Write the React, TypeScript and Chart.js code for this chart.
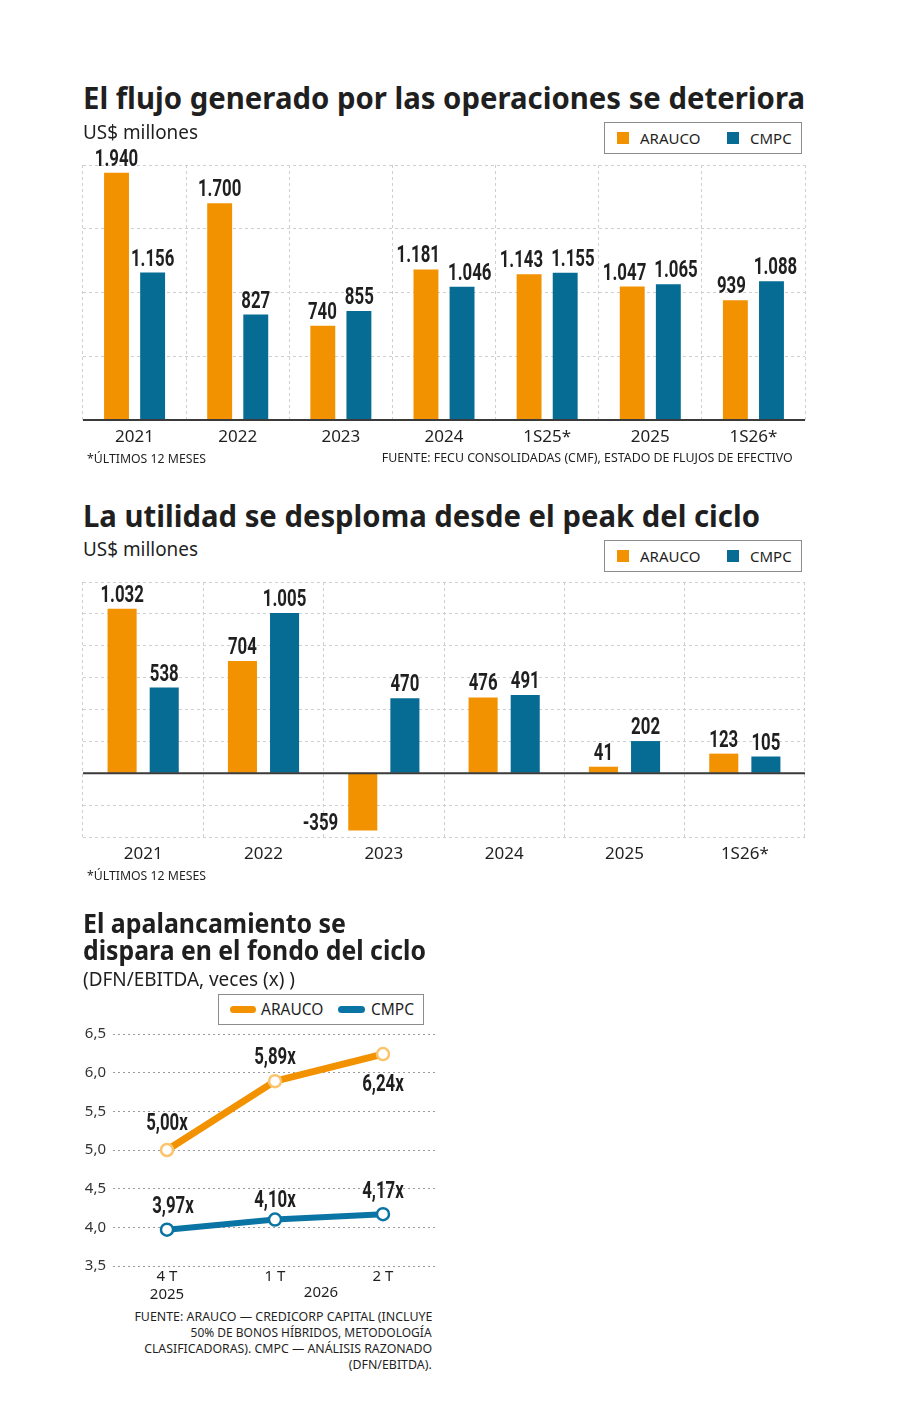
import React, { useEffect, useLayoutEffect, useRef } from 'react';
import { Chart, registerables } from 'chart.js';

Chart.register(...registerables);

// ---------- Data ----------
const flowCategories = ['2021', '2022', '2023', '2024', '1S25*', '2025', '1S26*'];
const flowArauco = [1940, 1700, 740, 1181, 1143, 1047, 939];
const flowCmpc = [1156, 827, 855, 1046, 1155, 1065, 1088];

const profitCategories = ['2021', '2022', '2023', '2024', '2025', '1S26*'];
const profitArauco = [1032, 704, -359, 476, 41, 123];
const profitCmpc = [538, 1005, 470, 491, 202, 105];

const levCategories: (string | string[])[] = [['4 T', '2025'], '1 T', '2 T'];
const levYearLabel = '2026';
const levArauco = [5.0, 5.89, 6.24];
const levCmpc = [3.97, 4.1, 4.17];

const seriesNames = ['ARAUCO', 'CMPC'];

// ---------- Styles ----------
const ORANGE = '#F29200';
const BLUE = '#066C94';
const LINE_BLUE = '#0A75A4';
const POINT_ORANGE = '#FBC46C';
const TEXT = '#1f1f1f';
const GRID = '#cfcfcf';
const SANS = "'Noto Sans', 'Open Sans', sans-serif";
const NUM_FONT = "Roboto, 'Noto Sans', sans-serif";
const NUM_SCALE = 0.7;

// ---------- Helpers ----------
function fmtThousands(v: number): string {
  const s = Math.abs(v).toString().replace(/\B(?=(\d{3})+(?!\d))/g, '.');
  return (v < 0 ? '-' : '') + s;
}
function fmtRatio(v: number): string {
  return v.toFixed(2).replace('.', ',') + 'x';
}

function numWidth(ctx: CanvasRenderingContext2D, text: string): number {
  ctx.save();
  ctx.font = `bold 24px ${NUM_FONT}`;
  const w = ctx.measureText(text).width * NUM_SCALE;
  ctx.restore();
  return w;
}

function drawCondensed(
  ctx: CanvasRenderingContext2D,
  text: string,
  x: number,
  baseline: number,
  align: CanvasTextAlign
) {
  ctx.save();
  ctx.font = `bold 24px ${NUM_FONT}`;
  ctx.fillStyle = TEXT;
  ctx.textBaseline = 'alphabetic';
  ctx.textAlign = align;
  ctx.translate(x, baseline);
  ctx.scale(NUM_SCALE, 1);
  ctx.fillText(text, 0, 0);
  ctx.restore();
}

const zeroLine = {
  id: 'zeroLine',
  afterDatasetsDraw(chart: any) {
    const { ctx, chartArea, scales } = chart;
    const y = scales.y.getPixelForValue(0);
    ctx.save();
    ctx.strokeStyle = '#3a3a3a';
    ctx.lineWidth = 2;
    ctx.beginPath();
    ctx.moveTo(chartArea.left, y);
    ctx.lineTo(chartArea.right, y);
    ctx.stroke();
    ctx.restore();
  },
};

const barLabels = {
  id: 'barLabels',
  afterDatasetsDraw(chart: any) {
    const ctx = chart.ctx;
    const ds = chart.data.datasets;
    const m0 = chart.getDatasetMeta(0);
    const m1 = chart.getDatasetMeta(1);
    const n = chart.data.labels.length;
    for (let i = 0; i < n; i++) {
      const items = [m0.data[i], m1.data[i]].map((bar: any, di: number) => {
        const v = ds[di].data[i] as number;
        const text = fmtThousands(v);
        return { bar, v, text, w: numWidth(ctx, text), x: bar.x, y: v >= 0 ? bar.y - 7 : bar.y };
      });
      const [a, b] = items;
      if (a.v >= 0 && b.v >= 0 && Math.abs(a.y - b.y) < 22) {
        const overlap = a.x + a.w / 2 + 8 - (b.x - b.w / 2);
        if (overlap > 0) {
          a.x -= overlap / 2;
          b.x += overlap / 2;
        }
      }
      items.forEach((it) => {
        if (it.v >= 0) drawCondensed(ctx, it.text, it.x, it.y, 'center');
        else drawCondensed(ctx, it.text, it.bar.x - it.bar.width / 2 - 10, it.y, 'right');
      });
    }
  },
};

// label offsets (style) for line chart: [dx, dy of label centre from point]
const levLabelOffsets = [
  [[0, -29], [0, -26], [0, 28]],
  [[6, -25], [0, -21], [0, -25]],
];

const lineLabels = {
  id: 'lineLabels',
  afterDatasetsDraw(chart: any) {
    const ctx = chart.ctx;
    chart.data.datasets.forEach((ds: any, di: number) => {
      const meta = chart.getDatasetMeta(di);
      meta.data.forEach((pt: any, i: number) => {
        const [dx, dy] = levLabelOffsets[di][i];
        drawCondensed(ctx, fmtRatio(ds.data[i]), pt.x + dx, pt.y + dy + 8.5, 'center');
      });
    });
    // second-line year label between 1T and 2T
    const xs = chart.scales.x;
    const x = (xs.getPixelForValue(1) + xs.getPixelForValue(2)) / 2;
    ctx.save();
    ctx.font = `15px ${SANS}`;
    ctx.fillStyle = TEXT;
    ctx.textAlign = 'center';
    ctx.textBaseline = 'middle';
    ctx.fillText(levYearLabel, x - 8, chart.chartArea.bottom + 27);
    ctx.restore();
  },
};

// ---------- Text components ----------
type FitProps = {
  x: number;
  y: number; // visual centre of caps
  width?: number;
  size: number;
  weight?: number;
  align?: 'left' | 'right';
  color?: string;
  children: string;
};

function FitText({ x, y, width, size, weight = 400, align = 'left', color = TEXT, children }: FitProps) {
  const ref = useRef<HTMLSpanElement>(null);
  useLayoutEffect(() => {
    const el = ref.current;
    if (!el || !width) return;
    const apply = () => {
      el.style.transform = 'none';
      const w = el.getBoundingClientRect().width;
      if (w > 0) el.style.transform = `scaleX(${width / w})`;
    };
    apply();
    const fonts = (document as any).fonts;
    if (fonts && fonts.ready) fonts.ready.then(apply);
  }, [width, children]);
  const style: React.CSSProperties = {
    position: 'absolute',
    top: y - size * 0.53,
    fontSize: size,
    lineHeight: `${size}px`,
    fontWeight: weight,
    fontFamily: SANS,
    color,
    whiteSpace: 'nowrap',
    display: 'inline-block',
    transformOrigin: align === 'left' ? 'left center' : 'right center',
  };
  if (align === 'left') style.left = x;
  else style.right = 900 - x;
  return (
    <span ref={ref} style={style}>
      {children}
    </span>
  );
}

function BoxLegend({ left, top }: { left: number; top: number }) {
  return (
    <div
      style={{
        position: 'absolute',
        left,
        top,
        width: 198,
        height: 32,
        border: '1.5px solid #8c8c8c',
        boxSizing: 'border-box',
        background: '#fff',
      }}
    >
      <div style={{ position: 'absolute', left: 12, top: 9, width: 12, height: 12, background: ORANGE }} />
      <FitText x={35} y={16} size={15}>{seriesNames[0]}</FitText>
      <div style={{ position: 'absolute', left: 122, top: 9, width: 12, height: 12, background: BLUE }} />
      <FitText x={145} y={16} size={15}>{seriesNames[1]}</FitText>
    </div>
  );
}

function LineLegend({ left, top }: { left: number; top: number }) {
  return (
    <div
      style={{
        position: 'absolute',
        left,
        top,
        width: 206,
        height: 31,
        border: '1.5px solid #8c8c8c',
        boxSizing: 'border-box',
        background: '#fff',
      }}
    >
      <div style={{ position: 'absolute', left: 11, top: 11, width: 26, height: 7, borderRadius: 4, background: ORANGE }} />
      <FitText x={42} y={15} size={15.5}>{seriesNames[0]}</FitText>
      <div style={{ position: 'absolute', left: 119, top: 11, width: 27, height: 7, borderRadius: 4, background: LINE_BLUE }} />
      <FitText x={152} y={15} size={15.5}>{seriesNames[1]}</FitText>
    </div>
  );
}

// ---------- Chart components ----------
function useChart(ref: React.RefObject<HTMLCanvasElement>, make: () => any) {
  useEffect(() => {
    if (!ref.current) return;
    const chart = new Chart(ref.current, make());
    return () => chart.destroy();
  }, []);
}

function FlowChart() {
  const ref = useRef<HTMLCanvasElement>(null);
  useChart(ref, () => ({
    type: 'bar',
    data: {
      labels: flowCategories,
      datasets: [
        { label: seriesNames[0], data: flowArauco, backgroundColor: ORANGE, categoryPercentage: 0.7, barPercentage: 0.69 },
        { label: seriesNames[1], data: flowCmpc, backgroundColor: BLUE, categoryPercentage: 0.7, barPercentage: 0.69 },
      ],
    },
    options: {
      responsive: false,
      animation: false,
      layout: { padding: { left: 83, right: 95, top: 25, bottom: 0 } },
      plugins: { legend: { display: false }, tooltip: { enabled: false } },
      scales: {
        x: {
          grid: { color: GRID, drawTicks: false, offset: true },
          border: { display: false, dash: [3, 3] },
          ticks: { font: { family: SANS, size: 17 }, color: TEXT, padding: 7 },
          afterFit: (s: any) => { s.height = 40; },
        },
        y: {
          min: 0,
          max: 2000,
          ticks: { display: false, stepSize: 500 },
          grid: { color: GRID, drawTicks: false },
          border: { display: false, dash: [3, 3] },
          afterFit: (s: any) => { s.width = 0; },
        },
      },
    },
    plugins: [zeroLine, barLabels],
  }));
  return <canvas ref={ref} width={900} height={320} style={{ position: 'absolute', left: 0, top: 140, width: 900, height: 320 }} />;
}

function ProfitChart() {
  const ref = useRef<HTMLCanvasElement>(null);
  useChart(ref, () => ({
    type: 'bar',
    data: {
      labels: profitCategories,
      datasets: [
        { label: seriesNames[0], data: profitArauco, backgroundColor: ORANGE, categoryPercentage: 0.7, barPercentage: 0.69 },
        { label: seriesNames[1], data: profitCmpc, backgroundColor: BLUE, categoryPercentage: 0.7, barPercentage: 0.69 },
      ],
    },
    options: {
      responsive: false,
      animation: false,
      layout: { padding: { left: 83, right: 95, top: 7, bottom: 0 } },
      plugins: { legend: { display: false }, tooltip: { enabled: false } },
      scales: {
        x: {
          grid: { color: GRID, drawTicks: false, offset: true },
          border: { display: false, dash: [3, 3] },
          ticks: { font: { family: SANS, size: 17 }, color: TEXT, padding: 7 },
          afterFit: (s: any) => { s.height = 38; },
        },
        y: {
          min: -400,
          max: 1200,
          ticks: { display: false, stepSize: 200 },
          grid: { color: GRID, drawTicks: false },
          border: { display: false, dash: [3, 3] },
          afterFit: (s: any) => { s.width = 0; },
        },
      },
    },
    plugins: [zeroLine, barLabels],
  }));
  return <canvas ref={ref} width={900} height={300} style={{ position: 'absolute', left: 0, top: 575, width: 900, height: 300 }} />;
}

function LeverageChart() {
  const ref = useRef<HTMLCanvasElement>(null);
  useChart(ref, () => ({
    type: 'line',
    data: {
      labels: levCategories,
      datasets: [
        {
          label: seriesNames[0],
          data: levArauco,
          borderColor: ORANGE,
          borderWidth: 7,
          borderCapStyle: 'round',
          pointBackgroundColor: '#ffffff',
          pointBorderColor: POINT_ORANGE,
          pointBorderWidth: 2.5,
          pointRadius: 6,
          tension: 0,
        },
        {
          label: seriesNames[1],
          data: levCmpc,
          borderColor: LINE_BLUE,
          borderWidth: 6,
          borderCapStyle: 'round',
          pointBackgroundColor: '#ffffff',
          pointBorderColor: LINE_BLUE,
          pointBorderWidth: 2.5,
          pointRadius: 6,
          tension: 0,
        },
      ],
    },
    options: {
      responsive: false,
      animation: false,
      layout: { padding: { left: 0, right: 23, top: 9, bottom: 0 } },
      plugins: { legend: { display: false }, tooltip: { enabled: false } },
      scales: {
        x: {
          offset: true,
          grid: { display: false, drawTicks: false },
          border: { display: false },
          ticks: { font: { family: SANS, size: 15, lineHeight: 1.2 }, color: TEXT, padding: 2 },
          afterFit: (s: any) => { s.height = 39; },
        },
        y: {
          min: 3.5,
          max: 6.5,
          ticks: {
            stepSize: 0.5,
            font: { family: SANS, size: 15 },
            color: '#333',
            padding: 7,
            callback: (v: any) => Number(v).toFixed(1).replace('.', ','),
          },
          grid: { color: '#9a9a9a', drawTicks: false },
          border: { display: false, dash: [2, 3] },
          afterFit: (s: any) => { s.width = 113; },
        },
      },
    },
    plugins: [lineLabels],
  }));
  return <canvas ref={ref} width={460} height={287} style={{ position: 'absolute', left: 0, top: 1018, width: 460, height: 287 }} />;
}

export default function App() {
  return (
    <div
      style={{
        position: 'absolute',
        left: 0,
        top: 0,
        width: 900,
        height: 1417,
        background: '#ffffff',
        overflow: 'hidden',
        fontFamily: SANS,
        color: TEXT,
      }}
    >
      {/* Chart 1 */}
      <FlowChart />
      <FitText x={83} y={98} width={722} size={31} weight={700}>El flujo generado por las operaciones se deteriora</FitText>
      <FitText x={83} y={133} width={115} size={19}>US$ millones</FitText>
      <BoxLegend left={604} top={122} />
      <FitText x={87} y={459} width={119} size={13}>*ÚLTIMOS 12 MESES</FitText>
      <FitText x={793} y={458} width={411} size={13} align="right">FUENTE: FECU CONSOLIDADAS (CMF), ESTADO DE FLUJOS DE EFECTIVO</FitText>

      {/* Chart 2 */}
      <ProfitChart />
      <FitText x={83} y={516} width={677} size={31} weight={700}>La utilidad se desploma desde el peak del ciclo</FitText>
      <FitText x={83} y={550} width={115} size={19}>US$ millones</FitText>
      <BoxLegend left={604} top={540} />
      <FitText x={87} y={876} width={119} size={13}>*ÚLTIMOS 12 MESES</FitText>

      {/* Chart 3 */}
      <LeverageChart />
      <FitText x={83} y={924} width={263} size={26} weight={700}>El apalancamiento se</FitText>
      <FitText x={83} y={951} width={343} size={26} weight={700}>dispara en el fondo del ciclo</FitText>
      <FitText x={83} y={980} width={212} size={19}>(DFN/EBITDA, veces (x) )</FitText>
      <LineLegend left={218} top={994} />
      <FitText x={432} y={1318} width={298} size={12.5} align="right">FUENTE: ARAUCO — CREDICORP CAPITAL (INCLUYE</FitText>
      <FitText x={432} y={1334} width={241} size={12.5} align="right">50% DE BONOS HÍBRIDOS, METODOLOGÍA</FitText>
      <FitText x={432} y={1350} width={288} size={12.5} align="right">CLASIFICADORAS). CMPC — ANÁLISIS RAZONADO</FitText>
      <FitText x={432} y={1366} width={83} size={12.5} align="right">(DFN/EBITDA).</FitText>
    </div>
  );
}
